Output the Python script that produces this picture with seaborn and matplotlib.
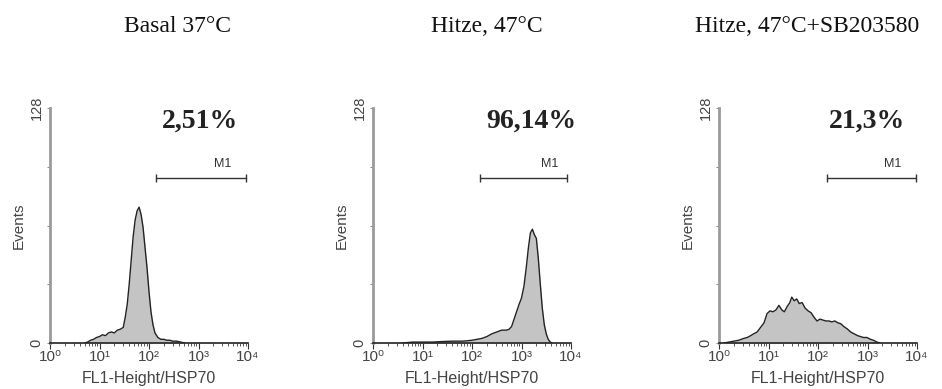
import numpy as np
import pandas as pd
import matplotlib
matplotlib.use("Agg")
import matplotlib.pyplot as plt
import seaborn as sns
from matplotlib.ticker import FixedLocator, FixedFormatter, LogLocator, NullFormatter

sns.set_theme(style="white")
plt.rcParams['font.family'] = ['Liberation Sans', 'DejaVu Sans']

titles = ["Basal 37°C", "Hitze, 47°C", "Hitze, 47°C+SB203580"]
percent_labels = ["2,51%", "96,14%", "21,3%"]

# log10 fluorescence channel and event counts, per panel
p1_log = [0.70, 0.76, 0.82, 0.88, 0.94, 1.00, 1.06, 1.12, 1.18, 1.24, 1.30, 1.36, 1.42,
          1.48, 1.52, 1.56, 1.60, 1.64, 1.68, 1.72, 1.76, 1.80, 1.84, 1.88, 1.92, 1.96,
          2.00, 2.04, 2.08, 2.12, 2.18, 2.24, 2.30, 2.36, 2.42, 2.48, 2.56, 2.64, 2.72]
p1_cnt = [0, 0.5, 1.5, 2, 3, 3.5, 4.5, 4, 5.5, 6, 5.5, 7, 7.5,
          8.5, 14, 21, 32, 45, 58, 67, 72, 74, 70, 63, 52, 41,
          28, 17, 10, 5.5, 3, 2, 2, 1.5, 1.5, 1, 1, 0.5, 0]

p2_log = [0.60, 0.80, 1.00, 1.20, 1.40, 1.60, 1.80, 1.90, 2.00, 2.10, 2.20, 2.30, 2.40,
          2.50, 2.60, 2.70, 2.75, 2.80, 2.85, 2.90, 2.95, 3.00, 3.05, 3.10, 3.14, 3.18,
          3.22, 3.26, 3.30, 3.34, 3.38, 3.42, 3.46, 3.50, 3.54, 3.58, 3.62]
p2_cnt = [0, 0.5, 0.5, 0.5, 0.8, 1, 1, 1.2, 1.5, 2, 2.5, 3.5, 5,
          6, 7, 7, 7.5, 9, 13, 17, 21, 24.5, 31, 42, 52, 60,
          62, 59, 57, 46, 32, 19, 10, 5, 2, 0.5, 0]

p3_log = [0.10, 0.20, 0.30, 0.40, 0.50, 0.57, 0.64, 0.70, 0.77, 0.84, 0.91, 0.97, 1.03,
          1.09, 1.15, 1.21, 1.27, 1.32, 1.38, 1.43, 1.47, 1.52, 1.57, 1.62, 1.68, 1.74,
          1.80, 1.86, 1.92, 1.98, 2.04, 2.10, 2.16, 2.22, 2.28, 2.34, 2.40, 2.46, 2.52,
          2.59, 2.66, 2.73, 2.80, 2.86, 2.92, 2.99, 3.06, 3.12, 3.19, 3.26]
p3_cnt = [0, 0.5, 1, 1.5, 2.5, 3, 4, 5, 6, 8.5, 11, 16, 17.5,
          17, 18, 20.5, 18, 17, 20, 22, 25, 23, 24, 21.5, 22, 19,
          17.5, 16.5, 14, 12, 13, 12.5, 12, 12, 11.5, 12, 11, 10.5, 9,
          7.7, 6, 5, 4, 3.5, 3, 3, 2, 1.5, 0.5, 0]

m1_start = [2.14, 2.16, 2.18]
m1_end = [3.96, 3.92, 3.98]
m1_level = 90
m1_text_x = [3.49, 3.56, 3.50]
pct_x = [3.04, 3.20, 2.99]

y_ticks = [0, 32, 64, 96, 128]
y_ticklabels = ["0", "", "", "", "128"]
x_ticklabels = ["10⁰", "10¹", "10²", "10³", "10⁴"]

data = [(p1_log, p1_cnt), (p2_log, p2_cnt), (p3_log, p3_cnt)]

fig = plt.figure(figsize=(9.42, 3.89), dpi=100)
W, H = 942, 389
lefts = [50, 373, 719]
axw = 198
bottom_px, top_px = 343, 108
title_x = [178, 487, 807]

for i, (lg, cnt) in enumerate(data):
    ax = fig.add_axes([lefts[i] / W, 1 - bottom_px / H, axw / W, (bottom_px - top_px) / H])
    df = pd.DataFrame({"fl": 10 ** np.array(lg), "events": cnt})
    ax.fill_between(df["fl"], df["events"], 0, color="#c4c4c4", linewidth=0)
    sns.lineplot(data=df, x="fl", y="events", ax=ax, color="#222222", linewidth=1.0,
                 sort=True, estimator=None)
    ax.set_xscale("log")
    ax.set_xlim(1, 1e4)
    ax.set_ylim(0, 128)

    # M1 marker bar
    xs = [10 ** m1_start[i], 10 ** m1_end[i]]
    ax.plot(xs, [m1_level, m1_level], color="#333333", linewidth=1.0,
            marker="|", markersize=6, markeredgewidth=1.0)
    ax.text(10 ** m1_text_x[i], m1_level + 4, "M1", fontsize=9, color="#333333",
            ha="center", va="bottom")
    ax.text(10 ** pct_x[i], 117.5, percent_labels[i], fontsize=20, fontweight="bold",
            family=["Liberation Serif", "DejaVu Serif"], color="#222222",
            ha="center", va="baseline")

    for s in ["top", "right"]:
        ax.spines[s].set_visible(False)
    ax.spines["left"].set_color("#9a9a9a")
    ax.spines["left"].set_linewidth(2.0)
    ax.spines["bottom"].set_color("#222222")
    ax.spines["bottom"].set_linewidth(1.2)

    ax.xaxis.set_major_locator(FixedLocator([1, 10, 100, 1000, 10000]))
    ax.xaxis.set_major_formatter(FixedFormatter(x_ticklabels))
    ax.xaxis.set_minor_locator(LogLocator(base=10, subs=np.arange(2, 10), numticks=20))
    ax.xaxis.set_minor_formatter(NullFormatter())
    ax.tick_params(axis="x", which="major", length=4, width=0.8, color="#333333",
                   labelsize=11, labelcolor="#444444", pad=1, direction="out", bottom=True)
    ax.tick_params(axis="x", which="minor", length=2.5, width=0.7, color="#555555",
                   direction="out", bottom=True)
    ax.set_yticks(y_ticks)
    ax.set_yticklabels(y_ticklabels, rotation=90, va="center")
    ax.tick_params(axis="y", length=2.5, width=0.7, color="#888888", labelsize=10.5,
                   labelcolor="#444444", pad=2, direction="out", left=True)
    ax.set_xlabel("FL1-Height/HSP70", fontsize=11.5, color="#444444", labelpad=5)
    ax.set_ylabel("Events", fontsize=11, color="#444444", labelpad=3)
    ax.grid(False)

    fig.text(title_x[i] / W, 1 - 32 / H, titles[i], fontsize=17,
             family=["Liberation Serif", "DejaVu Serif"], color="#111111",
             ha="center", va="baseline")

fig.savefig("out.png", dpi=100, facecolor="white")
